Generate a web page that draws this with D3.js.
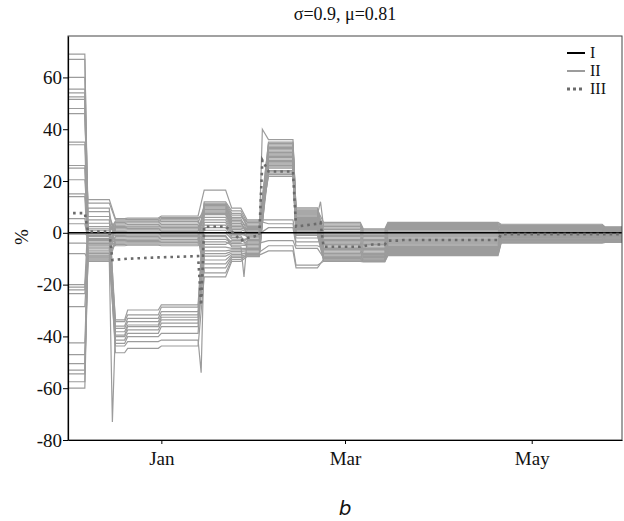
<!DOCTYPE html>
<html>
<head>
<meta charset="utf-8">
<script src="https://cdn.jsdelivr.net/npm/d3@7"></script>
<style>
  body { margin: 0; background: #fff; }
  svg text { font-family: "Liberation Serif", "Times New Roman", serif; fill: #111; }
</style>
</head>
<body>
<svg width="624" height="521"></svg>
<script>
// step blocks shared by all curves (start / end dates)
const blockStart = ["2007-12-01","2007-12-08","2007-12-17","2007-12-21","2008-01-01","2008-01-15","2008-01-24","2008-01-29","2008-02-05","2008-02-14","2008-02-23","2008-03-07","2008-03-15","2008-04-21","2008-05-25"];
const blockEnd   = ["2007-12-07","2007-12-15","2007-12-20","2007-12-31","2008-01-13","2008-01-22","2008-01-27","2008-02-02","2008-02-13","2008-02-21","2008-03-06","2008-03-14","2008-04-20","2008-05-24","2008-05-31"];

// series I: the zero line
const seriesI = [0,0,0,0,0,0,0,0,0,0,0,0,0,0,0];

// series II: one row per curve, one value per block (%)
const seriesII = [
  [69, -1.5, -33.6, -29.8, -27.8, 11, 6.8, 2.5, 30.5, 6, 1.8, -0.1, 2.4, 2.4, 1.5],
  [-20, 5, -34.3, -31.7, -28.7, -1.5, -3.6, -2, 25, 1.2, -2.5, -4, -0.8, 0.6, -0.1],
  [52.5, -8, -36, -33, -30.4, 8.5, 3.6, 0, 36, 8.8, 4, 1.5, 4, 3.3, 2.3],
  [-47, -11, -36.9, -34.3, -31.7, -9, -7.8, -8, 33, 8, -6.5, -8, -4, -1.1, -1.7],
  [26, -3, -38.2, -35.6, -32.6, 12, 8.5, 4, 27.5, 3.2, -0.5, -2, 0.8, 1.5, 0.7],
  [-57.5, 9.5, -39.5, -36.2, -33.6, 4, 0, -0.8, 22.5, -0.5, -9.9, -10.4, -7.2, -3, -3.3],
  [14, -9.4, -40.1, -37.5, -34.9, -13.5, -9.6, -8.9, 34, 7.6, -4.5, -6, -2.4, -0.2, -0.9],
  [-22, -5.5, -41.4, -38.8, -36.2, 7.5, 2.4, 1.6, 29, 4.4, -8.5, -9.2, -5.6, -2.1, -2.5],
  [48, 1.5, -42.7, -40.1, -38.8, -3.5, -4.8, -5, 31.5, 6.4, 3, 0.7, 3.2, 2.8, 1.9],
  [-8, -10.2, -43.7, -42, -41.4, -7, -6.6, -6.5, 24, 0.4, -10.5, -10.8, -8, -3.5, -3.5],
  [-53, -6.2, -46.3, -44.6, -43.7, -17, -11, -9.2, 28, 4, -5.5, -7, -3.2, -0.7, -1.3],
  [35, 12.8, 5.5, 5.7, 6.5, 16.5, 9.5, 5, 5, -2, -1.5, -3, 0, 1, 0.3],
  [-60, -9, 3, 3.2, 3.8, 10, 5.4, 0.8, 35, 9.6, 0.6, -1, 1.6, 2, 1.1],
  [67, 6.3, 0.5, 0.6, 1, 1, -1.8, -3.5, 26, 1.6, -9.3, -9.8, -6.4, -2.5, -2.9],
  [3.5, -2.2, -2, -1.9, -1.5, -10.5, -8.4, -7.5, -5, -12.5, -11, -11.2, -8.8, -4, -3.7],
  [-28.5, -7.5, -4.5, -4.4, -4.4, 11.5, 7.5, 3, 23, 0, -3.5, -5, -1.6, 0.2, -0.5],
  [54, 11.5, 5, 5.2, 6, 6, 1.2, 0.4, 32.5, 7.2, 2.4, 0.3, 2.8, 2.6, 1.7],
  [-4, -4.2, 2.5, 2.6, 3.2, -5.5, -6, -6, 27, 2.8, -7.5, -8.6, -4.8, -1.6, -2.1],
  [20.5, 2.4, 0, 0.1, 0.5, 9.5, 4.8, 2, 21.8, -1, -10.8, -11, -8.4, -3.7, -3.6],
  [-50.5, -9.8, -2.5, -2.4, -2, -15.5, -10.3, -8.6, -7, -13.5, -10.2, -10.6, -7.6, -3.2, -3.4],
  [60, 8.2, -5, -4.8, -5, -1, -5.4, -3, 30, 5.2, 3.5, 1.1, 3.6, 3, 2.1],
  [15, 0.8, 4.5, 4.6, 5.5, 8, 3, 3.5, 34.5, 9.2, -1, -2.5, 0.4, 1.3, 0.5],
  [-42.5, -8.6, 2, 2.2, 2.6, 3, -0.6, -1.2, 25.5, 2, -5, -6.5, -2.8, -0.4, -1.1],
  [46, 3.7, -0.5, -0.4, 0, -12, -9, -8.3, 28.5, 3.6, -9, -9.5, -6, -2.3, -2.7],
  [-0.5, -1, -3, -2.9, -2.6, 10.5, 6, 4.5, 3.5, -3.5, -3, -4.5, -1.2, 0.4, -0.3],
  [25, 0, 4, 4.2, 5, -2.5, -4.2, -4.5, 31, 5.6, 1.2, -0.5, 2, 2.2, 1.3],
  [-21, -5, 1.5, 1.6, 2, 7, 1.8, 1.2, 23.5, 0.8, -7, -8.3, -4.4, -1.4, -1.9],
  [55.5, -0.5, -1, -0.9, -0.5, -8, -7.2, -7, 33.5, 8.4, -2, -3.5, -0.4, 0.8, 0.1],
  [-54.5, -10.6, -3.5, -3.4, -3.2, 9, 4.2, -0.4, 2, -5, -6, -7.5, -3.6, -0.9, -1.5],
  [5.5, -2.6, 3.5, 3.8, 4.4, 0, -2.4, -2.5, 29.5, 4.8, 0, -1.5, 1.2, 1.7, 0.9],
  [34, -3.6, 1, 1.1, 1.5, 5, 0.6, -1.6, 26.5, 2.4, -4, -5.5, -2, 0, -0.7],
  [-23.5, -7, -1.5, -1.4, -1, -4.5, -3, -4, -3, -6, -9.6, -10.1, -6.8, -2.8, -3.1],
  [51.5, -4.6, -4, -3.9, -3.8, 2, -1.2, -5.5, 32, 6.8, -8, -8.9, -5.2, -1.8, -2.3]
];

// single-day spikes: [curve index, date, value]
const spikesII = [
  [3, "2007-12-16", -73],
  [9, "2008-01-14", -54],
  [20, "2008-01-28", -17],
  [2, "2008-02-03", 40],
  [16, "2008-02-22", 12]
];

// series III (dotted)
const datesIII = ["2007-12-01","2007-12-07","2007-12-08","2007-12-15","2007-12-16","2007-12-21","2007-12-31","2008-01-13","2008-01-14","2008-01-15","2008-01-22","2008-01-24","2008-01-27","2008-01-29","2008-02-02","2008-02-03","2008-02-05","2008-02-13","2008-02-14","2008-02-21","2008-02-22","2008-02-23","2008-03-06","2008-03-10","2008-03-14","2008-03-15","2008-03-19","2008-03-20","2008-04-20","2008-04-21","2008-05-31"];
const valuesIII = [7.6, 7.6, 0.5, 0.5, -10.5, -10, -9.5, -9, -28, 2.4, 2.4, 0.5, -3, -2, -1, 28, 23.7, 23.7, 2.4, 3.5, 4, -5.4, -5.4, -4.5, -4.5, -3, -3, -2.8, -2.8, -0.5, -0.5];

const yTicks = [-80, -60, -40, -20, 0, 20, 40, 60];
const xTicks = ["2008-01-01", "2008-03-01", "2008-05-01"];
const legendLabels = ["I", "II", "III"];

const svg = d3.select("svg");
const margin = {left: 68, right: 2, top: 36, bottom: 81};
const W = 624, H = 521;
const serif = '"Liberation Serif", "Times New Roman", serif';
const parse = d3.utcParse("%Y-%m-%d");

const x = d3.scaleUtc()
    .domain([Date.UTC(2007, 11, 1, 12), Date.UTC(2008, 4, 30, 12)])
    .range([margin.left, W - margin.right]);
const y = d3.scaleLinear()
    .domain([-80, 76])
    .range([H - margin.bottom, margin.top]);

svg.append("defs").append("clipPath").attr("id", "plot")
  .append("rect")
    .attr("x", margin.left).attr("y", margin.top)
    .attr("width", W - margin.left - margin.right)
    .attr("height", H - margin.top - margin.bottom);

// turn a row of block values into points
function blockPoints(row, idx) {
  let pts = [];
  row.forEach((v, b) => {
    pts.push([parse(blockStart[b]), v]);
    pts.push([parse(blockEnd[b]), v]);
  });
  spikesII.filter(s => s[0] === idx).forEach(s => pts.push([parse(s[1]), s[2]]));
  pts.sort((a, b) => a[0] - b[0]);
  return pts;
}

const line = d3.line().x(d => x(d[0])).y(d => y(d[1]));
const g = svg.append("g").attr("clip-path", "url(#plot)");

g.selectAll(".ii")
  .data(seriesII.map((r, i) => blockPoints(r, i)))
  .join("path")
    .attr("class", "ii")
    .attr("d", line)
    .attr("fill", "none")
    .attr("stroke", "#9c9c9c")
    .attr("stroke-width", 1.2);

g.append("path")
  .datum(blockPoints(seriesI, -1))
  .attr("d", line)
  .attr("fill", "none")
  .attr("stroke", "#000")
  .attr("stroke-width", 1.6);

g.append("path")
  .datum(datesIII.map((d, i) => [parse(d), valuesIII[i]]))
  .attr("d", line)
  .attr("fill", "none")
  .attr("stroke", "#6b6b6b")
  .attr("stroke-width", 2.6)
  .attr("stroke-dasharray", "2.6,4");

// frame
svg.append("rect")
  .attr("x", margin.left).attr("y", margin.top)
  .attr("width", W - margin.left - margin.right)
  .attr("height", H - margin.top - margin.bottom)
  .attr("fill", "none")
  .attr("stroke", "#444")
  .attr("stroke-width", 1);

// axes
const yAxis = svg.append("g")
  .attr("transform", `translate(${margin.left},0)`)
  .call(d3.axisLeft(y).tickValues(yTicks).tickFormat(d => String(d)).tickSize(5).tickPadding(1).tickSizeOuter(0));
const xAxis = svg.append("g")
  .attr("transform", `translate(0,${H - margin.bottom})`)
  .call(d3.axisBottom(x).tickValues(xTicks.map(parse)).tickFormat(d3.utcFormat("%b")).tickSize(4).tickPadding(8).tickSizeOuter(0));
[yAxis, xAxis].forEach(a => {
  a.attr("font-family", serif).attr("font-size", 19);
  a.selectAll("text").attr("fill", "#111");
  a.select(".domain").attr("stroke", "#000").attr("stroke-width", 1.2);
  a.selectAll(".tick line").attr("stroke", "#000");
});

// title and labels
svg.append("text")
  .attr("x", 345).attr("y", 20)
  .attr("text-anchor", "middle")
  .style("font-size", "18px")
  .text("σ=0.9, μ=0.81");

svg.append("text")
  .attr("transform", "translate(28,237) rotate(-90)")
  .attr("text-anchor", "middle")
  .style("font-size", "19px")
  .text("%");

svg.append("text")
  .attr("x", 345).attr("y", 515)
  .attr("text-anchor", "middle")
  .style("font-family", "DejaVu Sans, sans-serif")
  .style("font-style", "italic")
  .style("font-size", "20px")
  .text("b");

// legend
const legendStyles = [
  {stroke: "#000", width: 2, dash: null},
  {stroke: "#9c9c9c", width: 2, dash: null},
  {stroke: "#6b6b6b", width: 3, dash: "3,3"}
];
const leg = svg.append("g").attr("transform", "translate(567,53)");
legendLabels.forEach((lab, i) => {
  const row = leg.append("g").attr("transform", `translate(0,${i * 18})`);
  row.append("line")
    .attr("x1", 0).attr("x2", 18).attr("y1", 0).attr("y2", 0)
    .attr("stroke", legendStyles[i].stroke)
    .attr("stroke-width", legendStyles[i].width)
    .attr("stroke-dasharray", legendStyles[i].dash);
  row.append("text")
    .attr("x", 23).attr("y", 5)
    .style("font-size", "16px")
    .text(lab);
});
</script>
</body>
</html>
